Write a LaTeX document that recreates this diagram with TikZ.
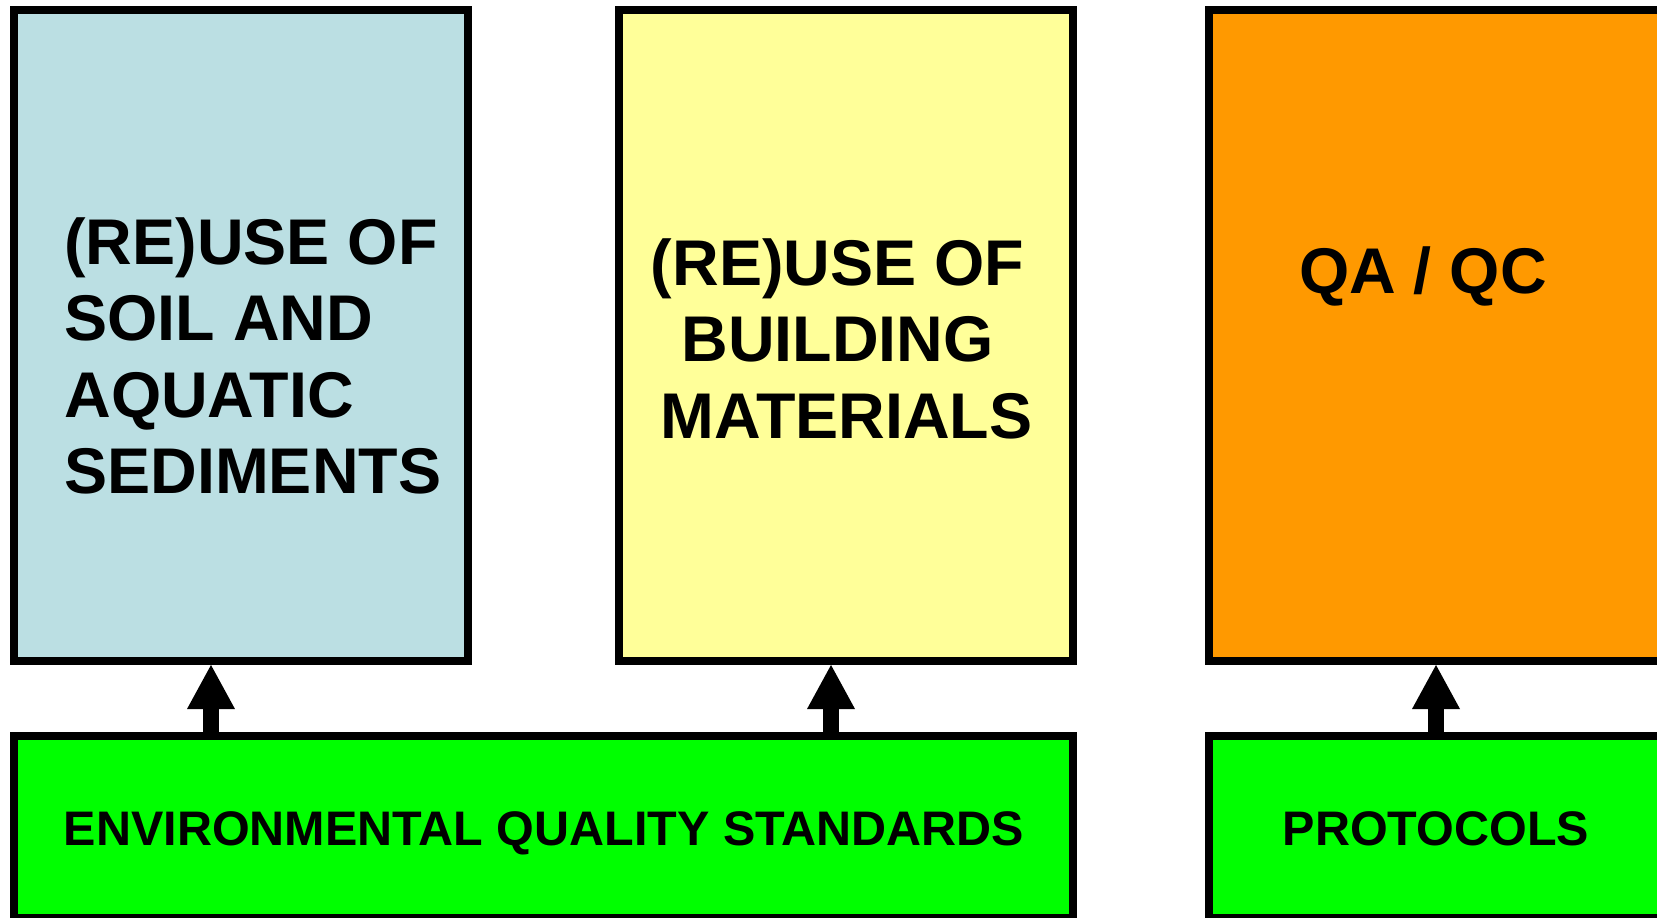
\documentclass[tikz,border=0pt]{standalone}
\usepackage{fontspec}
\setmainfont{Liberation Sans}
\usetikzlibrary{arrows.meta,positioning}
\definecolor{soilblue}{RGB}{187,223,227}
\definecolor{buildyellow}{RGB}{255,255,153}
\definecolor{qaorange}{RGB}{255,153,0}
\definecolor{stdgreen}{RGB}{0,255,0}
\begin{document}
\begin{tikzpicture}[x=0.5pt,y=-0.5pt]
\tikzstyle{tall}=[rectangle,draw,line width=4pt,minimum width=227pt,minimum height=325.5pt,inner sep=0pt]
\tikzstyle{low}=[rectangle,draw,line width=4pt,minimum height=91pt,inner sep=0pt]
\tikzstyle{big}=[font=\fontsize{32.3}{38.25}\selectfont\bfseries,inner sep=0pt]
\tikzstyle{small}=[font=\fontsize{24.25}{28}\selectfont\bfseries,inner sep=0pt,anchor=base]
\tikzstyle{up}=[line width=8pt,-{Triangle[width=24pt,length=22pt,line width=0pt]}]
\useasboundingbox (0,0) rectangle (1657,917);
\clip (0,0) rectangle (1657,917);
% upper boxes
\node[tall,fill=soilblue] (soil) at (241,335.5) {};
\node[tall,fill=buildyellow] (build) at (846,335.5) {};
\node[tall,fill=qaorange] (qa) at (1436,335.5) {};
\node[big,align=left,anchor=north west] (soiltxt) at (64,217) {(RE)USE OF\\SOIL AND\\AQUATIC\\SEDIMENTS};
\node[big,align=center,anchor=north] (buildtxt) at (846.5,238) {(RE)USE OF\phantom{\ }\\BUILDING\phantom{\ }\\MATERIALS};
\node[big,anchor=base] (qatxt) at (1423,293) {QA / QC};
% lower boxes
\node[low,fill=stdgreen,minimum width=529.5pt] (env) at (543.5,827) {};
\node[low,fill=stdgreen,minimum width=227pt] (proto) at (1436,827) {};
\node[small] (envtxt) at (544,845) {ENVIRONMENTAL QUALITY STANDARDS};
\node[small] (prototxt) at (1436,845.5) {PROTOCOLS};
% arrows
\coordinate (a1) at (211,0);
\coordinate (a2) at (831,0);
\draw[up] (env.north -| a1) -- (soil.south -| a1);
\draw[up] (env.north -| a2) -- (build.south -| a2);
\draw[up] (proto.north) -- (qa.south);
\end{tikzpicture}
\end{document}
